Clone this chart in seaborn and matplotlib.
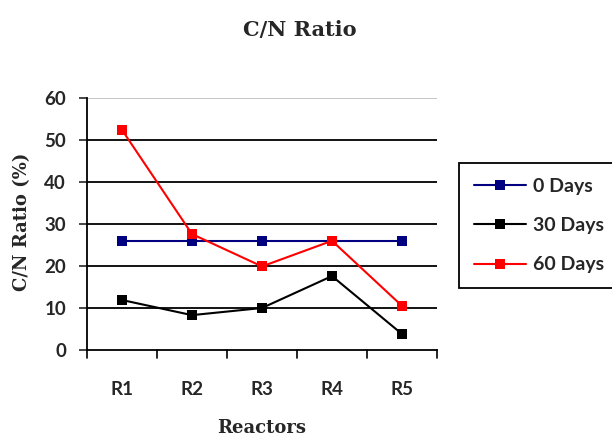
import matplotlib
matplotlib.use("Agg")
import matplotlib.pyplot as plt
import seaborn as sns
import pandas as pd

reactors = ["R1", "R2", "R3", "R4", "R5"]
days_0 = [26, 26, 26, 26, 26]
days_30 = [11.9, 8.3, 10.0, 17.6, 3.8]
days_60 = [52.4, 27.6, 19.9, 26.0, 10.5]
series_names = ["0 Days", "30 Days", "60 Days"]
colors = ["#000080", "#000000", "#FF0000"]
y_ticks = [0, 10, 20, 30, 40, 50, 60]

sns.set_theme(style="white")
plt.rcParams['font.family'] = ['Lato', 'DejaVu Sans']

rows = []
for name, vals in zip(series_names, [days_0, days_30, days_60]):
    for r, v in zip(reactors, vals):
        rows.append({"Reactor": r, "Value": v, "Series": name})
df = pd.DataFrame(rows)

fig = plt.figure(figsize=(6.12, 4.41), dpi=100)
ax = fig.add_axes([87/612, 1 - 350/441, 350/612, 252/441])

sns.lineplot(data=df, x="Reactor", y="Value", hue="Series", hue_order=series_names,
             palette=colors, marker="s", markersize=7.5, markeredgewidth=0,
             linewidth=1.5, ax=ax, sort=False, legend=True)

ax.set_xlim(-0.5, 4.5)
ax.set_ylim(0, 60)
ax.set_yticks(y_ticks)
ax.set_yticklabels([str(t) for t in y_ticks], fontsize=13.5, fontweight="bold")
ax.set_xticks(range(len(reactors)))
ax.set_xticklabels(reactors, fontsize=13.5, fontweight="bold")
ax.tick_params(axis="x", length=0, pad=22)
ax.tick_params(axis="y", length=6, width=1.2, direction="out", left=True, pad=9)
for x in [i - 0.5 for i in range(len(reactors) + 1)]:
    ax.plot([x, x], [0, -0.03], transform=ax.get_xaxis_transform(), color="black",
            lw=1.2, clip_on=False)

for t in y_ticks[1:-1]:
    ax.axhline(t, color="black", lw=1.3, zorder=0)
ax.axhline(60, color="#bbbbbb", lw=1.2, zorder=0)

for s in ["top", "right"]:
    ax.spines[s].set_visible(False)
for s in ["left", "bottom"]:
    ax.spines[s].set_color("black")
    ax.spines[s].set_linewidth(1.3)

ax.set_xlabel("Reactors", family=["DejaVu Serif"], fontweight="bold", fontsize=13)
ax.xaxis.set_label_coords(0.5, (350 - 428) / 252)
ax.xaxis.label.set_va("center")
ax.set_ylabel("C/N Ratio (%)", family=["DejaVu Serif"], fontweight="bold", fontsize=13)
ax.yaxis.set_label_coords((22 - 87) / 350, 0.51)
ax.yaxis.label.set_va("center")
fig.suptitle("C/N Ratio", family=["DejaVu Serif"], fontweight="bold", fontsize=15,
             x=300/612, y=1 - 30/441, va="center")

leg = ax.legend(loc="upper left", bbox_to_anchor=(459/612, 1 - 163/441),
                bbox_transform=fig.transFigure, frameon=True, fancybox=False,
                edgecolor="black", framealpha=1, prop={"weight": "bold", "size": 14},
                handlelength=2.7, labelspacing=1.15, borderpad=0.75, handletextpad=0.35,
                borderaxespad=0)
leg.get_frame().set_linewidth(1.3)

fig.savefig("out.png", dpi=100)
